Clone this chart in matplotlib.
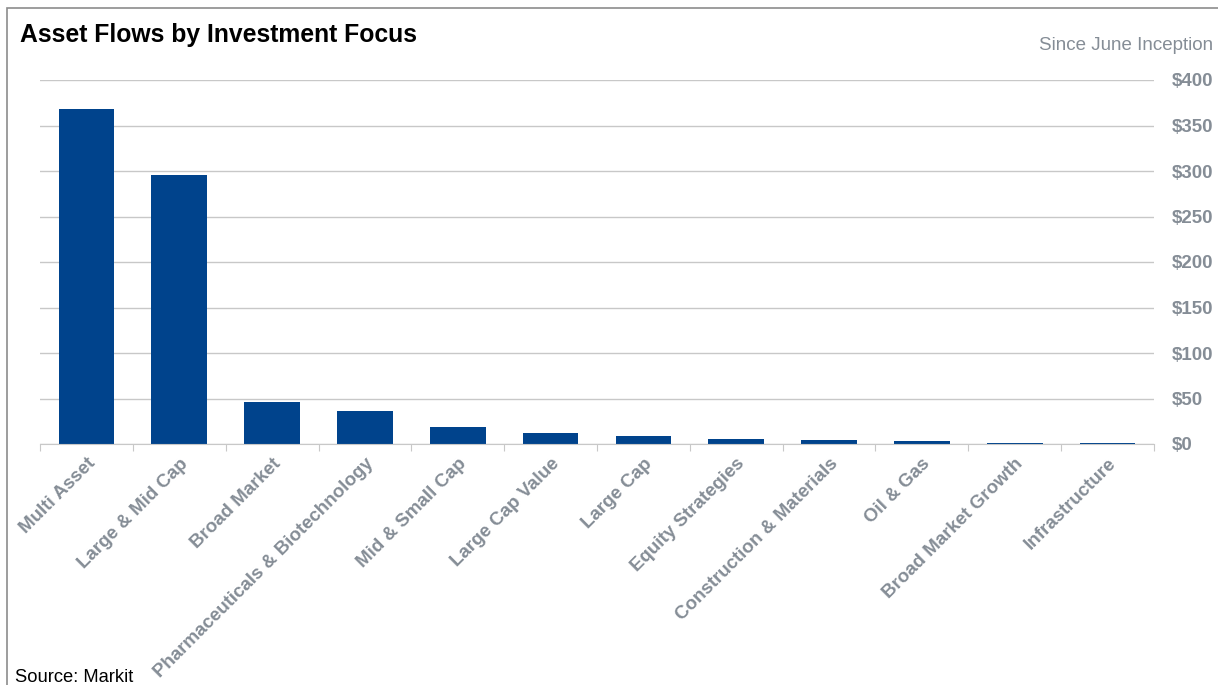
import matplotlib.pyplot as plt
import matplotlib.patches as mpatches
import numpy as np

plt.rcParams['font.family'] = ['Liberation Sans', 'DejaVu Sans']

categories = ['Multi Asset', 'Large & Mid Cap', 'Broad Market',
              'Pharmaceuticals & Biotechnology', 'Mid & Small Cap',
              'Large Cap Value', 'Large Cap', 'Equity Strategies',
              'Construction & Materials', 'Oil & Gas',
              'Broad Market Growth', 'Infrastructure']
flows = [368, 296, 46, 36, 19, 12, 9, 6, 4.5, 3, 1.5, 1.5]
y_ticks = [0, 50, 100, 150, 200, 250, 300, 350, 400]
y_labels = ['$' + str(v) for v in y_ticks]

BAR = '#00438C'
GRAY_TXT = '#858D96'
GRID = '#C8C8C8'

fig = plt.figure(figsize=(12.18, 6.85), dpi=100)
ax = fig.add_axes([40 / 1218, 1 - 444 / 685, (1154 - 40) / 1218, 364 / 685])

x = np.arange(len(categories))
ax.bar(x, flows, width=0.6, color=BAR, zorder=3)

ax.set_xlim(-0.5, len(categories) - 0.5)
ax.set_ylim(0, 400)
ax.set_yticks(y_ticks)
ax.set_yticklabels(y_labels)
ax.yaxis.tick_right()
ax.tick_params(axis='y', length=0, pad=13, labelsize=13.5, labelcolor=GRAY_TXT)
for lbl in ax.get_yticklabels():
    lbl.set_fontweight('bold')
ax.grid(axis='y', color=GRID, lw=1, zorder=0)

# tick marks sit between categories
ax.set_xticks(np.arange(len(categories) + 1) - 0.5)
ax.set_xticklabels([])
ax.tick_params(axis='x', length=5, color=GRID, direction='out')
ax.set_xticks(x, minor=True)
ax.set_xticklabels(categories, minor=True, rotation=45, ha='right',
                   rotation_mode='anchor', fontsize=13.5, color=GRAY_TXT,
                   fontweight='bold')
ax.tick_params(axis='x', which='minor', length=0, pad=8)

for s in ['top', 'left', 'right']:
    ax.spines[s].set_visible(False)
ax.spines['bottom'].set_color(GRID)
ax.spines['bottom'].set_zorder(4)

fig.text(20 / 1218, 1 - 35 / 685, 'Asset Flows by Investment Focus',
         fontsize=17.8, fontweight='bold', va='center', ha='left')
fig.text(1213 / 1218, 1 - 46 / 685, 'Since June Inception',
         fontsize=13.5, color=GRAY_TXT, va='center', ha='right')
fig.text(15 / 1218, 1 - 678 / 685, 'Source: Markit',
         fontsize=13.2, va='center', ha='left')

fig.patches.append(mpatches.Rectangle((7 / 1218, -0.05), 1.2, 1 - 8 / 685 + 0.05,
                                      transform=fig.transFigure, fill=False,
                                      edgecolor='#8C8C8C', lw=1.2))

fig.savefig('out.png', dpi=100)
